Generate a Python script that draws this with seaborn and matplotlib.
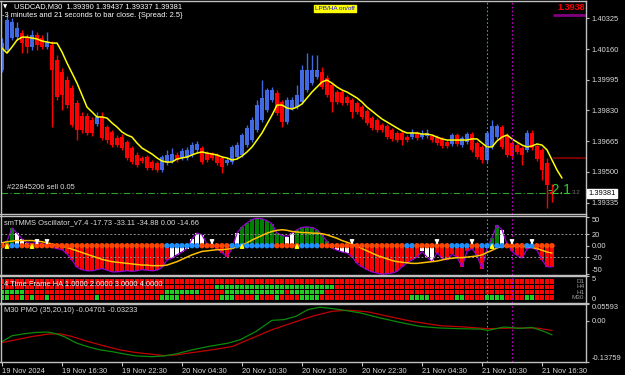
import numpy as np
import pandas as pd
import matplotlib
matplotlib.use("Agg")
import matplotlib.pyplot as plt
import seaborn as sns

sns.set_theme(style="dark")
plt.rcParams["font.family"] = ["Liberation Sans", "DejaVu Sans"]

# ---------------- data: USDCAD M30 candles ----------------
opens = [1.40047, 1.40155, 1.40219, 1.40224, 1.40246, 1.40224, 1.40171, 1.40235, 1.40219, 1.40171,
         1.40181, 1.40101, 1.40036, 1.39993, 1.39950, 1.39870, 1.39800, 1.39800, 1.39779, 1.39757,
         1.39795, 1.39741, 1.39714, 1.39682, 1.39687, 1.39660, 1.39628, 1.39591, 1.39575, 1.39580,
         1.39553, 1.39548, 1.39510, 1.39548, 1.39558, 1.39591, 1.39575, 1.39575, 1.39591, 1.39618,
         1.39628, 1.39601, 1.39596, 1.39591, 1.39575, 1.39548, 1.39553, 1.39580, 1.39591, 1.39644,
         1.39671, 1.39725, 1.39779, 1.39832, 1.39886, 1.39924, 1.39875, 1.39768, 1.39843, 1.39848,
         1.39875, 1.39940, 1.39977, 1.40010, 1.40036, 1.40004, 1.39967, 1.39929, 1.39929, 1.39902,
         1.39886, 1.39870, 1.39848, 1.39827, 1.39789, 1.39779, 1.39752, 1.39746, 1.39725, 1.39709,
         1.39709, 1.39687, 1.39687, 1.39709, 1.39687, 1.39693, 1.39693, 1.39687, 1.39677, 1.39660,
         1.39650, 1.39698, 1.39644, 1.39660, 1.39703, 1.39655, 1.39634, 1.39564, 1.39634, 1.39687,
         1.39741, 1.39698, 1.39655, 1.39644, 1.39628, 1.39618, 1.39709, 1.39639, 1.39618, 1.39548,
         1.39390]
closes = [1.40192, 1.40316, 1.40305, 1.40273, 1.40192, 1.40171, 1.40235, 1.40181, 1.40171, 1.40198,
          1.40047, 1.39902, 1.39913, 1.39859, 1.39752, 1.39725, 1.39725, 1.39709, 1.39709, 1.39795,
          1.39682, 1.39671, 1.39644, 1.39644, 1.39628, 1.39575, 1.39553, 1.39537, 1.39558, 1.39521,
          1.39521, 1.39510, 1.39580, 1.39591, 1.39596, 1.39564, 1.39612, 1.39618, 1.39644, 1.39650,
          1.39553, 1.39564, 1.39575, 1.39548, 1.39526, 1.39564, 1.39634, 1.39644, 1.39698, 1.39736,
          1.39779, 1.39859, 1.39897, 1.39940, 1.39940, 1.39816, 1.39768, 1.39886, 1.39886, 1.39913,
          1.40047, 1.40047, 1.40047, 1.40047, 1.39956, 1.39913, 1.39875, 1.39875, 1.39870, 1.39870,
          1.39822, 1.39822, 1.39795, 1.39763, 1.39736, 1.39725, 1.39725, 1.39687, 1.39677, 1.39671,
          1.39671, 1.39671, 1.39709, 1.39682, 1.39703, 1.39709, 1.39671, 1.39655, 1.39639, 1.39639,
          1.39698, 1.39650, 1.39682, 1.39703, 1.39618, 1.39580, 1.39564, 1.39709, 1.39746, 1.39746,
          1.39634, 1.39591, 1.39585, 1.39607, 1.39591, 1.39709, 1.39628, 1.39569, 1.39510, 1.39430,
          1.39381]
highs = [1.40219, 1.40342, 1.40326, 1.40305, 1.40262, 1.40240, 1.40262, 1.40251, 1.40235, 1.40251,
         1.40203, 1.40128, 1.40058, 1.40015, 1.39967, 1.39886, 1.39822, 1.39816, 1.39795, 1.39822,
         1.39822, 1.39752, 1.39725, 1.39698, 1.39703, 1.39671, 1.39639, 1.39607, 1.39585, 1.39591,
         1.39564, 1.39558, 1.39591, 1.39618, 1.39628, 1.39607, 1.39628, 1.39634, 1.39660, 1.39666,
         1.39639, 1.39612, 1.39607, 1.39601, 1.39585, 1.39575, 1.39644, 1.39660, 1.39709, 1.39752,
         1.39795, 1.39886, 1.39993, 1.39950, 1.39956, 1.39940, 1.39886, 1.39902, 1.39902, 1.39967,
         1.40074, 1.40138, 1.40128, 1.40128, 1.40063, 1.40020, 1.39977, 1.39940, 1.39940, 1.39913,
         1.39897, 1.39881, 1.39859, 1.39838, 1.39800, 1.39789, 1.39763, 1.39757, 1.39736, 1.39720,
         1.39720, 1.39698, 1.39730, 1.39720, 1.39725, 1.39730, 1.39703, 1.39698, 1.39687, 1.39671,
         1.39709, 1.39709, 1.39693, 1.39714, 1.39714, 1.39666, 1.39644, 1.39720, 1.39779, 1.39757,
         1.39752, 1.39709, 1.39666, 1.39655, 1.39639, 1.39725, 1.39725, 1.39650, 1.39628, 1.39575,
         1.39437]
lows = [1.40036, 1.40144, 1.40208, 1.40208, 1.40138, 1.40138, 1.40155, 1.40155, 1.40160, 1.40160,
        1.39741, 1.39886, 1.39832, 1.39843, 1.39741, 1.39671, 1.39709, 1.39698, 1.39693, 1.39746,
        1.39671, 1.39655, 1.39634, 1.39634, 1.39618, 1.39564, 1.39542, 1.39526, 1.39548, 1.39510,
        1.39510, 1.39499, 1.39499, 1.39537, 1.39548, 1.39553, 1.39564, 1.39564, 1.39580, 1.39607,
        1.39542, 1.39553, 1.39564, 1.39537, 1.39494, 1.39537, 1.39542, 1.39569, 1.39580, 1.39634,
        1.39660, 1.39714, 1.39768, 1.39822, 1.39875, 1.39805, 1.39741, 1.39757, 1.39832, 1.39838,
        1.39865, 1.39929, 1.39967, 1.39999, 1.39945, 1.39902, 1.39822, 1.39865, 1.39859, 1.39859,
        1.39789, 1.39811, 1.39784, 1.39752, 1.39725, 1.39714, 1.39714, 1.39677, 1.39666, 1.39660,
        1.39644, 1.39660, 1.39677, 1.39671, 1.39677, 1.39682, 1.39660, 1.39644, 1.39628, 1.39628,
        1.39639, 1.39639, 1.39634, 1.39650, 1.39607, 1.39569, 1.39548, 1.39553, 1.39623, 1.39677,
        1.39623, 1.39580, 1.39575, 1.39596, 1.39537, 1.39607, 1.39618, 1.39558, 1.39456, 1.39306,
        1.39337]
# yellow moving average (shifted two bars beyond the last candle)
ma_line = [1.40165, 1.40138, 1.40171, 1.40208, 1.40224, 1.40224, 1.40219, 1.40214, 1.40203, 1.40198,
           1.40192, 1.40192, 1.40144, 1.40085, 1.40031, 1.39977, 1.39913, 1.39848, 1.39822, 1.39795,
           1.39795, 1.39789, 1.39763, 1.39741, 1.39714, 1.39698, 1.39687, 1.39655, 1.39628, 1.39612,
           1.39596, 1.39575, 1.39558, 1.39553, 1.39553, 1.39569, 1.39575, 1.39580, 1.39591, 1.39601,
           1.39607, 1.39601, 1.39596, 1.39591, 1.39580, 1.39575, 1.39564, 1.39569, 1.39585, 1.39607,
           1.39634, 1.39671, 1.39709, 1.39757, 1.39805, 1.39859, 1.39859, 1.39843, 1.39838, 1.39848,
           1.39865, 1.39897, 1.39929, 1.39956, 1.39983, 1.39993, 1.39977, 1.39956, 1.39940, 1.39929,
           1.39913, 1.39897, 1.39875, 1.39848, 1.39827, 1.39805, 1.39784, 1.39768, 1.39752, 1.39736,
           1.39720, 1.39709, 1.39709, 1.39709, 1.39703, 1.39703, 1.39698, 1.39687, 1.39677, 1.39671,
           1.39671, 1.39671, 1.39671, 1.39671, 1.39677, 1.39677, 1.39655, 1.39634, 1.39634, 1.39666,
           1.39687, 1.39698, 1.39677, 1.39660, 1.39644, 1.39634, 1.39639, 1.39650, 1.39644, 1.39618,
           1.39564, 1.39510, 1.39467]

price_ticks = [1.40325, 1.40160, 1.39995, 1.39830, 1.39665, 1.39500, 1.39335]
last_price = 1.39381
sell_line = 1.39387
red_level = 1.39575
purple_level = 1.40342

# ---------------- oscillator ----------------
osc_hist = [4, 8, 31, 22, 12, 5, 4, 6, 3, 2,
            -3, -5, -7, -14, -25, -38, -42, -44, -44, -42,
            -40, -43, -46, -46, -45, -44, -45, -44, -42, -43,
            -44, -43, -38, -25, -22, -16, -11, -5, 12, 22,
            19, 3, 2, -5, -12, -19, -5, 22, 33, 40,
            46, 48, 47, 44, 38, 22, 18, 16, 22, 28,
            32, 33, 32, 28, 18, 8, -4, -8, -11, -13,
            -19, -31, -37, -42, -46, -48, -50, -49, -48, -45,
            -37, -30, -25, -20, -10, -20, -28, -12, -22, -25,
            -15, -20, -37, -10, -5, -17, -40, -4, 14, 36,
            28, 3, -10, -17, -22, -6, -3, -8, -25, -37,
            -37]
osc_hist_col = ("WGGWWWWWWW" "RRRRRRRRRR" "RRRRRRRRRR" "RRRRWWWWWW"
                "WWWRRRRWGG" "GGGGGGGWWG" "GGGGGGWWWW" "RRRRRRRRRR"
                "RRRRWWWRRR" "RRRRRRRWGG" "WWRRRRWRRR" "R")
osc_signal = [5, 7, 8, 9, 9, 9, 9, 8, 7, 5,
              3, 1, -1, -3, -6, -9, -12, -15, -18, -21,
              -24, -26, -28, -29, -30, -31, -32, -33, -34, -34,
              -35, -35, -35, -34, -31, -28, -24, -20, -16, -13,
              -10, -9, -8, -7, -7, -6, -5, -2, 1, 5,
              10, 14, 18, 22, 25, 27, 28, 27, 25, 24,
              23, 23, 22, 22, 21, 19, 16, 13, 9, 6,
              3, -1, -5, -9, -13, -17, -20, -23, -26, -28,
              -29, -30, -31, -31, -30, -29, -28, -27, -25, -23,
              -22, -21, -21, -20, -19, -18, -16, -12, -8, -4,
              -1, -1, -1, -1, -1, -2, -3, -5, -8, -11,
              -13]
osc_dots = ("OOBBOOOOOO" "OOOOOOOOOO" "OOOOOOOOOO" "OOOBBBBBBB"
            "OOOOOOBBBB" "BBBBBOOOOO" "BBBBOOOOOO" "OOOOOOOOOO"
            "OBBOOOOOOO" "BBBBOOBBBB" "BOOOOBBOOO" "O")
up_arrows = [1, 6, 48, 59, 98]
down_arrows = [7, 9, 42, 70, 87, 94, 102, 106]
osc_levels = [20, -20]

# ---------------- 4 time frame heiken ashi ----------------
ha_d1 = ("RRRRRRRRRR" "RRRRRRRRRR" "RRRRRRRRRR" "RRRRRRRRRR" "RRRRRRRRRR" "RRRRRRRRRR"
         "RRRRRRRRRR" "RRRRRRRRRR" "RRRRRRRRRR" "RRRRRRRRRR" "RRRRRRRRRR" "R")
ha_h4 = ("RRRRRRRRRR" "RRRRRRRRRR" "RRRRRRRRRR" "RRRRRRRRRR" "RRRGGGGGGG" "GGGGGGGGGG"
         "GGGGGGGRRR" "RRRRRRRRRR" "RRRRRRRRRR" "RRRRRRRRRR" "RRRRRRRRRR" "R")
ha_h1 = ("GGGGGRRRRR" "RRRRRRRRRR" "RRRRRRRRRR" "RRRGGGGGGG" "RRRRRGGGGG" "GGGGGGGRGG"
         "GGGGGRRRRR" "RRRRRRRRRR" "RRRRRRRRRR" "RRRRRRRRRR" "RRRRRRRRRR" "R")
ha_m30 = ("GGRRGRGRRG" "RRRRRRRRRG" "RRRRRRRRRR" "RRGGGGRRRR" "RRRRGGGRRR" "RGRRRGRRRR"
          "GGGGRRRRRR" "RRRRRRRRRR" "RRGGGGRRRR" "RGGRRRRGGG" "GRRRRGGRRR" "R")
ha_rows = {"D1": (4, ha_d1), "H4": (3, ha_h4), "H1": (2, ha_h1), "M30": (1, ha_m30)}

# ---------------- PMO ----------------
pmo_bar = [0, 2, 4.4, 6.8, 9.2, 10.8, 12.4, 14.8, 17.2, 19.6, 22, 24.4, 26.8, 30, 32.4, 34.8,
           38, 41.2, 45.2, 47.6, 50.8, 54, 56.4, 58.8, 61.2, 63.6, 66, 68.4, 71.6, 75.6, 79.6,
           83.6, 87.6, 91.6, 95.6, 97.2, 100.4, 103.6, 106, 108.4, 110]
pmo_green = [-0.0693, -0.0501, -0.0434, -0.0390, -0.0376, -0.0434, -0.0525, -0.0737, -0.0871,
             -0.0972, -0.1030, -0.1107, -0.1174, -0.1198, -0.1174, -0.1107, -0.0972, -0.0861,
             -0.0747, -0.0636, -0.0356, 0.0014, 0.0038, 0.0149, 0.0374, 0.0452, 0.0408, 0.0351,
             0.0263, 0.0095, -0.0053, -0.0188, -0.0242, -0.0265, -0.0276, -0.0323, -0.0208,
             -0.0255, -0.0222, -0.0356, -0.0470]
sig_bar = [0, 2.8, 6, 9.2, 11.6, 14, 17.2, 20.4, 23.6, 26.8, 30, 32.4, 34.8, 38, 42.8, 46, 49.2,
           54, 58, 62, 66, 69.2, 73.2, 77.2, 82, 87.6, 92.4, 97.2, 102, 106.8, 110]
pmo_red = [-0.0727, -0.0636, -0.0525, -0.0444, -0.0434, -0.0525, -0.0693, -0.0838, -0.0972,
           -0.1063, -0.1117, -0.1164, -0.1141, -0.1063, -0.0949, -0.0861, -0.0636, -0.0299,
           -0.0074, 0.0149, 0.0317, 0.0351, 0.0297, 0.0149, -0.0020, -0.0164, -0.0208, -0.0265,
           -0.0242, -0.0242, -0.0323]
pmo_top, pmo_bottom = 0.05593, -0.13759

time_ticks = [0, 12, 24, 36, 48, 60, 72, 84, 96, 108]
time_labels = ["19 Nov 2024", "19 Nov 16:30", "19 Nov 22:30", "20 Nov 04:30", "20 Nov 10:30",
               "20 Nov 16:30", "20 Nov 22:30", "21 Nov 04:30", "21 Nov 10:30", "21 Nov 16:30"]
vline_cyan, vline_magenta = 97, 102

# ---------------- figure ----------------
W, H = 625, 375
fig = plt.figure(figsize=(W / 100, H / 100), dpi=100, facecolor="black")
TXT = "#dcdcdc"
GRID = "#c0c0c0"
FS = 5.4


def add_ax(top, bottom, left=0.5, right=586):
    ax = fig.add_axes([left / W, 1 - bottom / H, (right - left) / W, (bottom - top) / H])
    ax.set_facecolor("black")
    for s in ax.spines.values():
        s.set_color(GRID)
        s.set_linewidth(1.0)
    ax.grid(False)
    ax.set_xlim(-0.3, 116.8)
    ax.yaxis.tick_right()
    ax.tick_params(axis="y", colors=GRID, labelcolor=TXT, labelsize=FS, length=2.5, width=0.8, pad=1.5)
    ax.tick_params(axis="x", bottom=False, labelbottom=False)
    return ax


def ftext(x, y, s, **kw):
    kw.setdefault("color", TXT)
    kw.setdefault("fontsize", FS)
    kw.setdefault("va", "center")
    fig.text(x / W, 1 - y / H, s, **kw)


ax_main = add_ax(1, 214.5)
ax_osc = add_ax(215.5, 275)
ax_ha = add_ax(276, 303)
ax_pmo = add_ax(304, 362)

# ---- main candles ----
o = np.array(opens); c = np.array(closes); hi = np.array(highs); lo = np.array(lows)
idx = np.arange(len(o))
cols = np.where(c >= o, "#4169e1", "#ff0000")
ax_main.vlines(idx, lo, hi, colors=cols, lw=1.0)
ax_main.bar(idx, np.maximum(np.abs(c - o), 0.00003), bottom=np.minimum(o, c), width=0.7,
            color=cols, linewidth=0)
ma_df = pd.DataFrame({"bar": np.arange(len(ma_line)), "ma": ma_line})
sns.lineplot(data=ma_df, x="bar", y="ma", ax=ax_main, color="#ffff00", lw=1.1)
ax_main.set_ylim(1.39271, 1.40418)
ax_main.set_yticks(price_ticks)
ax_main.set_yticklabels([f"{t:.5f}" for t in price_ticks])
ax_main.axhline(sell_line, color="#2e9e2e", lw=0.8, ls=(0, (6, 2, 1, 2)), xmax=0.965)
ax_main.hlines(red_level, 110.2, 116.8, color="#8b0000", lw=1.2)
ax_main.hlines(purple_level, 110.2, 116.8, color="#800080", lw=2.0)
for a in (ax_main, ax_osc, ax_ha, ax_pmo):
    a.axvline(vline_cyan, color="#20b2aa", lw=0.8, ls=(0, (1.5, 2)))
    a.axvline(vline_magenta, color="#c000c0", lw=0.8, ls=(0, (1.5, 2)))
    a.set_xlabel(""); a.set_ylabel("")

# ---- oscillator ----
hmap = {"R": "#ff0000", "G": "#008000", "W": "#ffffff"}
osc_idx = np.arange(len(osc_hist))
ax_osc.bar(osc_idx, osc_hist, width=0.62, color=[hmap[ch] for ch in osc_hist_col], linewidth=0)
sns.lineplot(x=osc_idx, y=osc_hist, ax=ax_osc, color="#9400d3", lw=0.9)
for lv in osc_levels:
    ax_osc.axhline(lv, color="#909090", lw=0.7, ls=(0, (2, 2)))
sns.lineplot(x=osc_idx, y=osc_signal, ax=ax_osc, color="#ffc000", lw=1.1)
dmap = {"O": "#ff4500", "B": "#1e90ff"}
ax_osc.scatter(osc_idx, np.zeros(len(osc_idx)), s=15, c=[dmap[ch] for ch in osc_dots],
               linewidths=0, zorder=4)
for k in up_arrows:
    ax_osc.annotate("", xy=(k, 9), xytext=(k, -7),
                    arrowprops=dict(arrowstyle="-|>", color="#ffff00", lw=1.0, mutation_scale=6), zorder=5)
for k in down_arrows:
    ax_osc.annotate("", xy=(k, -3), xytext=(k, 12),
                    arrowprops=dict(arrowstyle="-|>", color="#ffffff", lw=1.0, mutation_scale=6), zorder=5)
ax_osc.set_ylim(-51.4, 53)
ax_osc.set_yticks([50, 20, 0, -20, -50])
ax_osc.set_yticklabels(["50", "20", "0.00", "-20", "-50"])
ax_osc.get_yticklabels()[0].set_va("top")
ax_osc.get_yticklabels()[-1].set_va("bottom")

# ---- HA grid ----
cmap_ha = {"R": "#ff0000", "G": "#22cc22"}
for name, (row, pattern) in ha_rows.items():
    ks = np.arange(len(pattern))
    ax_ha.bar(ks, 0.8, bottom=row - 0.4, width=0.8, color=[cmap_ha[ch] for ch in pattern], linewidth=0)
ax_ha.set_ylim(0, 5)
ax_ha.set_yticks([5, 0])
ax_ha.set_yticklabels(["5", "0"])
ax_ha.get_yticklabels()[0].set_va("top")
ax_ha.get_yticklabels()[-1].set_va("bottom")
for name, (row, pattern) in ha_rows.items():
    ax_ha.text(116.5, row, name, color="#9a9a9a", fontsize=4.6, ha="right", va="center")

# ---- PMO ----
sns.lineplot(x=sig_bar, y=pmo_red, ax=ax_pmo, color="#c00000", lw=0.9)
sns.lineplot(x=pmo_bar, y=pmo_green, ax=ax_pmo, color="#0a8a0a", lw=0.9)
ax_pmo.set_ylim(pmo_bottom, pmo_top)
ax_pmo.set_yticks([pmo_top, 0.0, pmo_bottom])
ax_pmo.set_yticklabels([f"{pmo_top:.5f}", "0.00", f"{pmo_bottom:.5f}"])
ax_pmo.get_yticklabels()[0].set_va("top")
ax_pmo.get_yticklabels()[-1].set_va("bottom")
ax_pmo.set_xticks(time_ticks)
ax_pmo.set_xticklabels(time_labels)
ax_pmo.tick_params(axis="x", bottom=True, labelbottom=True, colors=GRID, labelcolor=TXT,
                   labelsize=FS, length=3, width=0.8, pad=1.5)
for lab in ax_pmo.get_xticklabels():
    lab.set_ha("left")
for a in (ax_main, ax_osc, ax_ha, ax_pmo):
    a.set_xlim(-0.3, 116.8)
    a.set_xlabel(""); a.set_ylabel("")

# ---- texts ----
ftext(3, 6.5, "\u25bc", fontsize=4, family="DejaVu Sans", color="white")
ftext(14, 6.5, "USDCAD,M30  1.39390 1.39437 1.39337 1.39381", color="white")
ftext(2, 15.5, "-3 minutes and 21 seconds to bar close. {Spread: 2.5}", color="white")
ftext(315, 8.5, "LPB/HA on/off", color="#1010ff", fontsize=4.6,
      bbox=dict(facecolor="#ffff00", edgecolor="#ffff00", pad=0.8))
ftext(585, 8, "1.3938", color="#ff0000", fontsize=6.5, fontweight="bold", ha="right")
ftext(7, 187.5, "#22845206 sell 0.05", color=TXT)
ftext(547, 190, "-2.1", color="#32cd32", fontsize=10)
ftext(572, 192, "3.2", color="#707070", fontsize=4.5)
ftext(588.5, 193.5, "1.39381", color="black",
      bbox=dict(facecolor="white", edgecolor="white", pad=0.9))
ftext(4, 222.5, "smTMMS Oscillator_v7.4 -17.73 -33.11 -34.88 0.00 -14.66")
ftext(4, 284.5, "4 Time Frame HA 1.0000 2.0000 3.0000 4.0000", color="white")
ftext(4, 311, "M30 PMO (35,20,10) -0.04701 -0.03233")

fig.savefig("out.png", dpi=100, facecolor="black")
